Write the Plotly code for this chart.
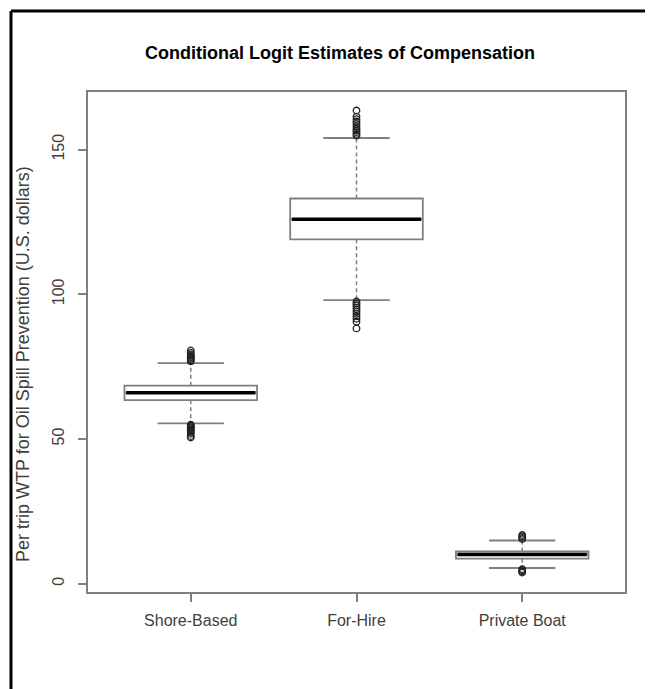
import plotly.graph_objects as go

categories = ["Shore-Based", "For-Hire", "Private Boat"]
positions = [1, 2, 3]
q1 = [63.4, 119.0, 8.6]
median = [66.0, 125.9, 10.1]
q3 = [68.4, 133.1, 11.1]
lower_whisker = [55.4, 98.0, 5.4]
upper_whisker = [76.2, 154.0, 14.9]
outliers_upper = [
    [76.8, 77.2, 77.6, 78.0, 78.3, 78.7, 79.2, 79.8, 80.6],
    [154.8, 155.4, 156.0, 156.6, 157.3, 158.1, 158.9, 159.7, 160.5, 161.4, 163.5],
    [15.4, 15.8, 16.3, 16.8],
]
outliers_lower = [
    [54.9, 54.5, 54.1, 53.7, 53.3, 52.9, 52.4, 51.8, 51.0, 50.5],
    [97.5, 96.8, 96.2, 95.5, 94.8, 94.0, 93.2, 92.4, 91.5, 90.5, 88.2],
    [5.0, 4.6, 4.2, 3.8],
]
y_ticks = [0, 50, 100, 150]

BOXW = 0.8
CAPW = 0.4
GRAY = "#7f7f7f"
TXT = "#404040"

fig = go.Figure()

for i, x in enumerate(positions):
    fig.add_trace(go.Scatter(x=[x, x], y=[q3[i], upper_whisker[i]], mode="lines",
                             line=dict(color=GRAY, width=1.5, dash="4px,3px"),
                             showlegend=False, hoverinfo="skip"))
    fig.add_trace(go.Scatter(x=[x, x], y=[q1[i], lower_whisker[i]], mode="lines",
                             line=dict(color=GRAY, width=1.5, dash="4px,3px"),
                             showlegend=False, hoverinfo="skip"))
    for w in (upper_whisker[i], lower_whisker[i]):
        fig.add_trace(go.Scatter(x=[x - CAPW / 2, x + CAPW / 2], y=[w, w], mode="lines",
                                 line=dict(color=GRAY, width=1.8),
                                 showlegend=False, hoverinfo="skip"))

fig.add_trace(go.Box(
    x=positions, q1=q1, median=median, q3=q3,
    lowerfence=q1, upperfence=q3,
    width=BOXW, whiskerwidth=0,
    fillcolor="white", line=dict(color=GRAY, width=1.8),
    boxpoints=False, showlegend=False, hoverinfo="skip",
))

for i, x in enumerate(positions):
    fig.add_trace(go.Scatter(x=[x - BOXW / 2 + 0.01, x + BOXW / 2 - 0.01], y=[median[i], median[i]],
                             mode="lines", line=dict(color="black", width=3.5),
                             showlegend=False, hoverinfo="skip"))
    pts = outliers_upper[i] + outliers_lower[i]
    fig.add_trace(go.Scatter(x=[x] * len(pts), y=pts, mode="markers",
                             marker=dict(symbol="circle-open", size=6.5, color="#222222",
                                         line=dict(width=1.3)),
                             showlegend=False, hoverinfo="skip"))

fig.update_layout(
    width=653, height=689,
    margin=dict(l=80, r=36, t=84, b=105),
    paper_bgcolor="white", plot_bgcolor="white",
    font=dict(family="Liberation Sans, Arial, sans-serif", size=16, color=TXT),
    xaxis=dict(range=[0.38, 3.62], tickvals=positions, ticktext=categories,
               showline=True, mirror=True, linecolor=GRAY, linewidth=2,
               ticks="outside", ticklen=8, tickcolor=GRAY, tickwidth=1.5,
               showgrid=False, zeroline=False, ticklabelstandoff=5),
    yaxis=dict(range=[-2.9, 169.9], tickvals=y_ticks, tickangle=-90,
               showline=True, mirror=True, linecolor=GRAY, linewidth=2,
               ticks="outside", ticklen=8, tickcolor=GRAY, tickwidth=1.5,
               showgrid=False, zeroline=False, ticklabelstandoff=8),
    annotations=[
        dict(text="<b>Conditional Logit Estimates of Compensation</b>",
             xref="paper", yref="paper", x=(340 - 88) / 537, y=(592 - 53) / 500,
             xanchor="center", yanchor="middle", showarrow=False,
             font=dict(size=18, color="black")),
        dict(text="Per trip WTP for Oil Spill Prevention (U.S. dollars)",
             xref="paper", yref="paper", x=(23 - 88) / 537, y=(592 - 364) / 500,
             xanchor="center", yanchor="middle", textangle=-90, showarrow=False,
             font=dict(size=18, color=TXT)),
    ],
    shapes=[
        dict(type="line", xref="paper", yref="paper",
             x0=(11 - 88) / 537, x1=(11 - 88) / 537, y0=(592 - 11) / 500, y1=(592 - 700) / 500,
             line=dict(color="black", width=3)),
        dict(type="line", xref="paper", yref="paper",
             x0=(11 - 88) / 537, x1=(670 - 88) / 537, y0=(592 - 11) / 500, y1=(592 - 11) / 500,
             line=dict(color="black", width=3)),
    ],
)

fig.write_html("out.html")
